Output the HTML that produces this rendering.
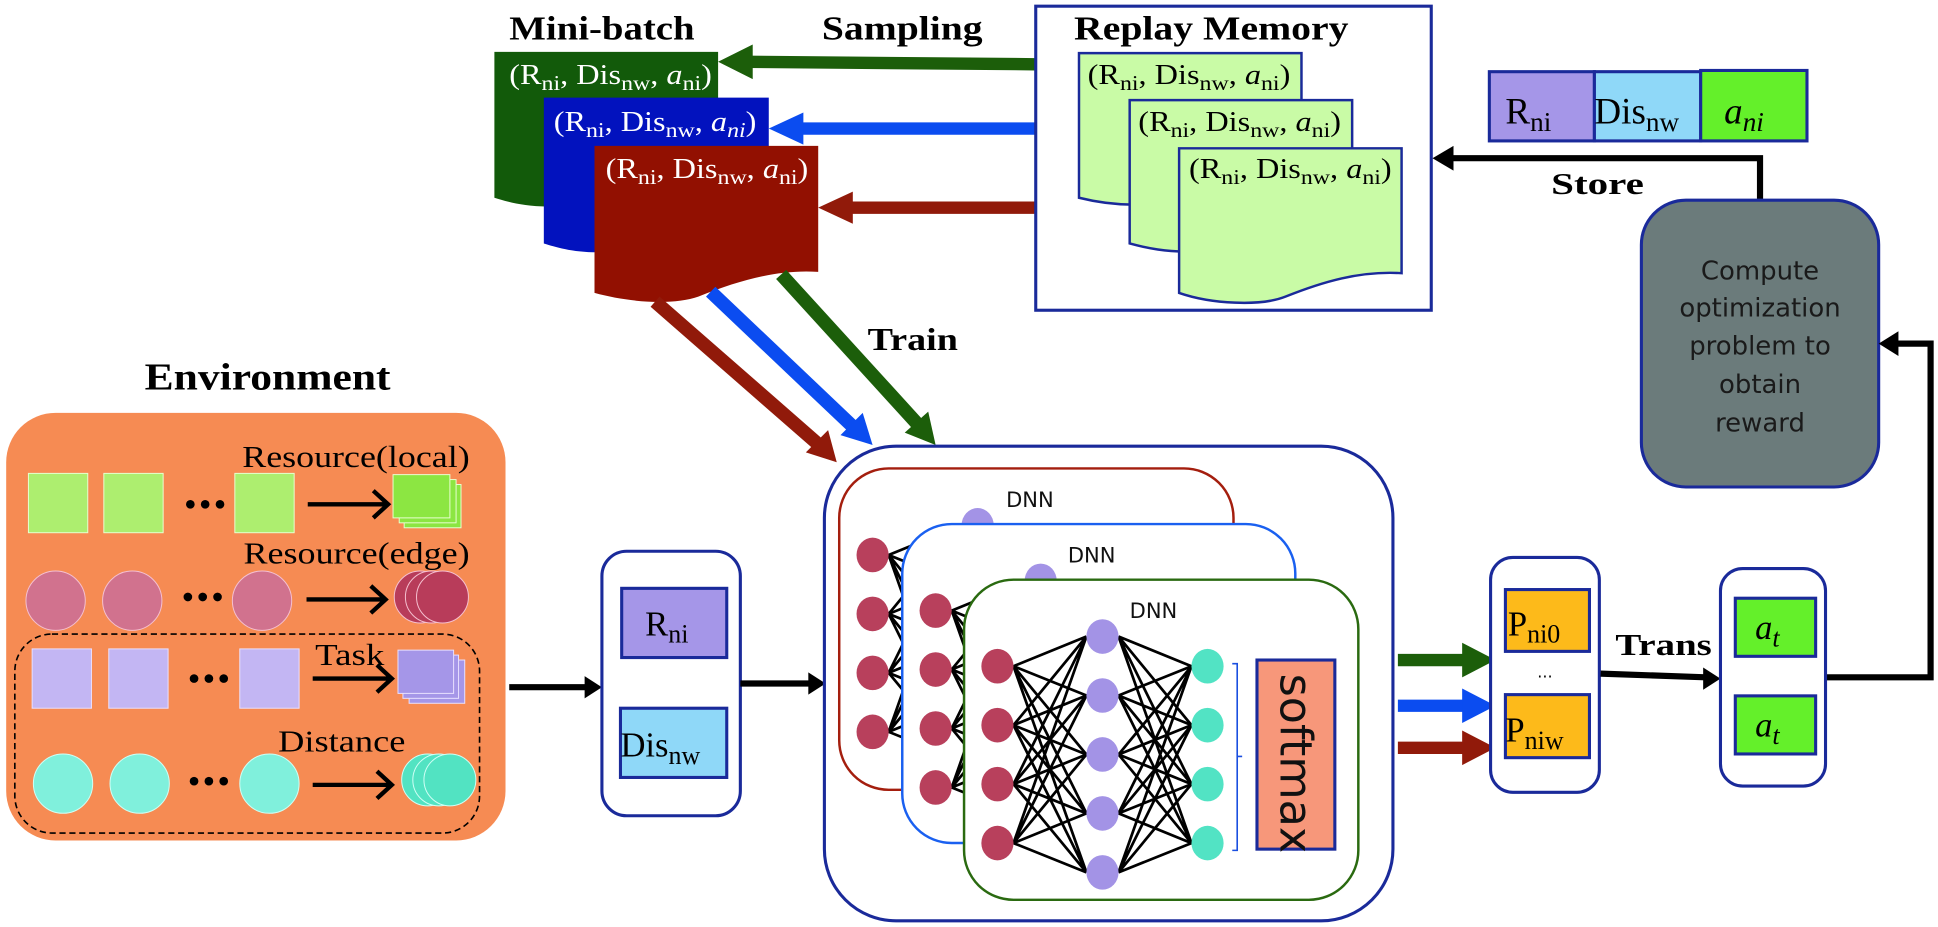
<!DOCTYPE html>
<html><head><meta charset="utf-8"><style>
html,body{margin:0;padding:0;background:#fff;}
svg{display:block;}
.t{font-family:"Liberation Serif",serif;font-weight:bold;fill:#000;}
.s{font-family:"Liberation Serif",serif;}
.sans{font-family:"DejaVu Sans","Liberation Sans",sans-serif;}
</style></head><body>
<svg width="1938" height="927" viewBox="0 0 1568 750" preserveAspectRatio="none" xmlns="http://www.w3.org/2000/svg">
<defs>
<g id="net">
 <g stroke="#000" stroke-width="2.2" fill="none">
  <path d="M40 70L99 46M40 70L99 93.7M40 70L99 141.4M40 70L99 189.1M40 70L99 236.8
  M40 117.7L99 46M40 117.7L99 93.7M40 117.7L99 141.4M40 117.7L99 189.1M40 117.7L99 236.8
  M40 165.4L99 46M40 165.4L99 93.7M40 165.4L99 141.4M40 165.4L99 189.1M40 165.4L99 236.8
  M40 213.1L99 46M40 213.1L99 93.7M40 213.1L99 141.4M40 213.1L99 189.1M40 213.1L99 236.8
  M184 70L125 46M184 70L125 93.7M184 70L125 141.4M184 70L125 189.1M184 70L125 236.8
  M184 117.7L125 46M184 117.7L125 93.7M184 117.7L125 141.4M184 117.7L125 189.1M184 117.7L125 236.8
  M184 165.4L125 46M184 165.4L125 93.7M184 165.4L125 141.4M184 165.4L125 189.1M184 165.4L125 236.8
  M184 213.1L125 46M184 213.1L125 93.7M184 213.1L125 141.4M184 213.1L125 189.1M184 213.1L125 236.8"/>
 </g>
 <g fill="#B8405C">
  <ellipse cx="27" cy="70" rx="13" ry="14"/><ellipse cx="27" cy="117.7" rx="13" ry="14"/><ellipse cx="27" cy="165.4" rx="13" ry="14"/><ellipse cx="27" cy="213.1" rx="13" ry="14"/>
 </g>
 <g fill="#A393E6">
  <ellipse cx="112" cy="46" rx="13" ry="14"/><ellipse cx="112" cy="93.7" rx="13" ry="14"/><ellipse cx="112" cy="141.4" rx="13" ry="14"/><ellipse cx="112" cy="189.1" rx="13" ry="14"/><ellipse cx="112" cy="236.8" rx="13" ry="14"/>
 </g>
 <g fill="#52E3C4">
  <ellipse cx="197" cy="70" rx="13" ry="14"/><ellipse cx="197" cy="117.7" rx="13" ry="14"/><ellipse cx="197" cy="165.4" rx="13" ry="14"/><ellipse cx="197" cy="213.1" rx="13" ry="14"/>
 </g>
 <path d="M217 68H221V219H217M221 143H225" stroke="#1a4fe0" stroke-width="1.3" fill="none"/>
 <rect x="237" y="65" width="63" height="153" fill="#F7977A" stroke="#1a2a9a" stroke-width="2.5"/>
 <text class="sans" transform="translate(256,76) rotate(90)" font-size="36" fill="#111">softmax</text>
</g>
</defs>

<text class="t" x="412" y="32" font-size="27" textLength="150" lengthAdjust="spacingAndGlyphs">Mini-batch</text>
<text class="t" x="665" y="32" font-size="27" textLength="130" lengthAdjust="spacingAndGlyphs">Sampling</text>

<path d="M400 42H581V150C540 146 520 160 450 167C425 168 410 163 400 160Z" fill="#125A0A"/>
<path d="M440 79H622V190C580 186 560 198 490 204C465 205 450 200 440 197Z" fill="#0212BE"/>
<path d="M481 118H662V220C630 218 600 226 565 240C545 247 510 245 481 237Z" fill="#921001"/>
<g class="s" font-size="23" fill="#fff">
<text x="412" y="68" textLength="164" lengthAdjust="spacingAndGlyphs">(R<tspan font-size="17" dy="5">ni</tspan><tspan dy="-5">, Dis</tspan><tspan font-size="17" dy="5">nw</tspan><tspan dy="-5">, </tspan><tspan font-style="italic">a</tspan><tspan font-size="17" dy="5">ni</tspan><tspan dy="-5">)</tspan></text>
<text x="448" y="106" textLength="164" lengthAdjust="spacingAndGlyphs">(R<tspan font-size="17" dy="5">ni</tspan><tspan dy="-5">, Dis</tspan><tspan font-size="17" dy="5">nw</tspan><tspan dy="-5">, </tspan><tspan font-style="italic">a</tspan><tspan font-size="17" dy="5" font-style="italic">ni</tspan><tspan dy="-5">)</tspan></text>
<text x="490" y="144" textLength="164" lengthAdjust="spacingAndGlyphs">(R<tspan font-size="17" dy="5">ni</tspan><tspan dy="-5">, Dis</tspan><tspan font-size="17" dy="5">nw</tspan><tspan dy="-5">, </tspan><tspan font-style="italic">a</tspan><tspan font-size="17" dy="5">ni</tspan><tspan dy="-5">)</tspan></text>
</g>

<path d="M838 52L605 50" stroke="#1C5E0A" stroke-width="10"/>
<path d="M581 50L609 36V64Z" fill="#1C5E0A"/>
<path d="M838 104H645" stroke="#0B4CF0" stroke-width="10"/>
<path d="M622 104L650 91V117Z" fill="#0B4CF0"/>
<path d="M838 168H685" stroke="#911A0A" stroke-width="10"/>
<path d="M662 168L690 155V181Z" fill="#911A0A"/>

<rect x="838" y="5" width="320" height="246" fill="#fff" stroke="#1a2a9a" stroke-width="2.5"/>
<text class="t" x="869" y="32" font-size="27" textLength="222" lengthAdjust="spacingAndGlyphs">Replay Memory</text>
<path d="M873 43H1053V150C1010 148 990 160 930 165C905 167 885 163 873 160Z" fill="#C9FBA6" stroke="#1a2a9a" stroke-width="2"/>
<path d="M914 81H1094V190C1050 188 1030 198 970 203C945 205 925 200 914 197Z" fill="#C9FBA6" stroke="#1a2a9a" stroke-width="2"/>
<path d="M954 120H1134V221C1100 219 1070 228 1040 240C1020 248 980 246 954 237Z" fill="#C9FBA6" stroke="#1a2a9a" stroke-width="2"/>
<g class="s" font-size="23" fill="#000">
<text x="880" y="68" textLength="164" lengthAdjust="spacingAndGlyphs">(R<tspan font-size="17" dy="5">ni</tspan><tspan dy="-5">, Dis</tspan><tspan font-size="17" dy="5">nw</tspan><tspan dy="-5">, </tspan><tspan font-style="italic">a</tspan><tspan font-size="17" dy="5">ni</tspan><tspan dy="-5">)</tspan></text>
<text x="921" y="106" textLength="164" lengthAdjust="spacingAndGlyphs">(R<tspan font-size="17" dy="5">ni</tspan><tspan dy="-5">, Dis</tspan><tspan font-size="17" dy="5">nw</tspan><tspan dy="-5">, </tspan><tspan font-style="italic">a</tspan><tspan font-size="17" dy="5">ni</tspan><tspan dy="-5">)</tspan></text>
<text x="962" y="144" textLength="164" lengthAdjust="spacingAndGlyphs">(R<tspan font-size="17" dy="5">ni</tspan><tspan dy="-5">, Dis</tspan><tspan font-size="17" dy="5">nw</tspan><tspan dy="-5">, </tspan><tspan font-style="italic">a</tspan><tspan font-size="17" dy="5">ni</tspan><tspan dy="-5">)</tspan></text>
</g>

<rect x="1205" y="58" width="85" height="56" fill="#A596E8" stroke="#1a2a9a" stroke-width="2.5"/>
<rect x="1290" y="58" width="86" height="56" fill="#8FD8F8" stroke="#1a2a9a" stroke-width="2.5"/>
<rect x="1376" y="57" width="86" height="57" fill="#64F02A" stroke="#1a2a9a" stroke-width="2.5"/>
<g class="s" fill="#000">
<text x="1218" y="100" font-size="30">R<tspan font-size="22" dy="6">ni</tspan></text>
<text x="1290" y="100" font-size="30">Dis<tspan font-size="22" dy="6">nw</tspan></text>
<text x="1395" y="100" font-size="30" font-style="italic">a<tspan font-size="22" dy="6">ni</tspan></text>
</g>

<path d="M1424 163V128H1172" stroke="#000" stroke-width="5" fill="none"/>
<path d="M1159 128L1176 118V138Z" fill="#000"/>
<text class="t" x="1255" y="157" font-size="25" textLength="75" lengthAdjust="spacingAndGlyphs">Store</text>

<rect x="1328" y="162" width="192" height="232" rx="36" fill="#6B7B7B" stroke="#1a2a9a" stroke-width="2.5"/>
<g class="sans" font-size="21" fill="#1a1a1a" text-anchor="middle">
<text x="1424" y="226">Compute</text>
<text x="1424" y="256">optimization</text>
<text x="1424" y="287">problem to</text>
<text x="1424" y="318">obtain</text>
<text x="1424" y="349">reward</text>
</g>
<path d="M1477 548H1562V278H1532" stroke="#000" stroke-width="5" fill="none"/>
<path d="M1520 278L1536 268V288Z" fill="#000"/>

<path d="M530 244L665 362" stroke="#911A0A" stroke-width="11"/>
<path d="M677 374L652 366L670 348Z" fill="#911A0A"/>
<path d="M575 236L693 348" stroke="#0B4CF0" stroke-width="11"/>
<path d="M706 360L680 352L698 334Z" fill="#0B4CF0"/>
<path d="M632 222L745 346" stroke="#1C5E0A" stroke-width="11"/>
<path d="M757 360L732 350L751 333Z" fill="#1C5E0A"/>
<text class="t" x="702" y="283" font-size="26" textLength="73" lengthAdjust="spacingAndGlyphs">Train</text>

<text class="t" x="117" y="315" font-size="31" textLength="199" lengthAdjust="spacingAndGlyphs">Environment</text>
<rect x="5" y="334" width="404" height="346" rx="40" fill="#F68B53"/>
<rect x="12" y="513" width="376" height="161" rx="30" fill="none" stroke="#000" stroke-width="1.3" stroke-dasharray="5,3"/>
<g class="s" font-size="25" fill="#000">
<text x="196" y="378" textLength="184" lengthAdjust="spacingAndGlyphs">Resource(local)</text>
<text x="197" y="456" textLength="183" lengthAdjust="spacingAndGlyphs">Resource(edge)</text>
<text x="255" y="538" textLength="56" lengthAdjust="spacingAndGlyphs">Task</text>
<text x="225" y="608" textLength="103" lengthAdjust="spacingAndGlyphs">Distance</text>
</g>
<g stroke="#e8ffd0" stroke-width="0.8">
<rect x="23" y="383" width="48" height="48" fill="#ADEE6F"/><rect x="84" y="383" width="48" height="48" fill="#ADEE6F"/><rect x="190" y="383" width="48" height="48" fill="#ADEE6F"/>
<rect x="327" y="392" width="46" height="35" fill="#8CE642"/><rect x="323" y="388" width="46" height="35" fill="#8CE642"/><rect x="318" y="384" width="46" height="35" fill="#8CE642"/>
</g>
<g stroke="#f5c0d0" stroke-width="0.8" fill="#D1728E">
<circle cx="45" cy="486" r="24"/><circle cx="107" cy="486" r="24"/><circle cx="212" cy="486" r="24"/>
</g>
<g stroke="#f5c0d0" stroke-width="0.8" fill="#B83C5A">
<circle cx="340" cy="483" r="21"/><circle cx="349" cy="483" r="21"/><circle cx="358" cy="483" r="21"/>
</g>
<g stroke="#e8e0ff" stroke-width="0.8">
<rect x="26" y="525" width="48" height="48" fill="#C3B6F3"/><rect x="88" y="525" width="48" height="48" fill="#C3B6F3"/><rect x="194" y="525" width="48" height="48" fill="#C3B6F3"/>
<rect x="331" y="534" width="45" height="35" fill="#A596E8"/><rect x="326" y="530" width="45" height="35" fill="#A596E8"/><rect x="322" y="526" width="45" height="35" fill="#A596E8"/>
</g>
<g stroke="#d0fff5" stroke-width="0.8" fill="#80F0DC">
<circle cx="51" cy="634" r="24"/><circle cx="113" cy="634" r="24"/><circle cx="218" cy="634" r="24"/>
</g>
<g stroke="#d0fff5" stroke-width="0.8" fill="#52E3C2">
<circle cx="346" cy="631" r="21"/><circle cx="355" cy="631" r="21"/><circle cx="364" cy="631" r="21"/>
</g>
<g fill="#000">
<circle cx="154" cy="408" r="3.5"/><circle cx="166" cy="408" r="3.5"/><circle cx="178" cy="408" r="3.5"/>
<circle cx="152" cy="483" r="3.5"/><circle cx="164" cy="483" r="3.5"/><circle cx="176" cy="483" r="3.5"/>
<circle cx="157" cy="549" r="3.5"/><circle cx="169" cy="549" r="3.5"/><circle cx="181" cy="549" r="3.5"/>
<circle cx="157" cy="632" r="3.5"/><circle cx="169" cy="632" r="3.5"/><circle cx="181" cy="632" r="3.5"/>
</g>
<g stroke="#000" stroke-width="3.5" fill="none">
<path d="M249 408H313M302 397L314 408L302 419"/>
<path d="M248 485H311M300 474L312 485L300 496"/>
<path d="M253 549H316M305 538L317 549L305 560"/>
<path d="M253 635H316M305 624L317 635L305 646"/>
</g>

<path d="M412 556H476" stroke="#000" stroke-width="5"/>
<path d="M487 556L473 547V565Z" fill="#000"/>
<rect x="487" y="446" width="112" height="214" rx="20" fill="#fff" stroke="#1a2a9a" stroke-width="2.5"/>
<rect x="503" y="476" width="85" height="56" fill="#A596E8" stroke="#1a2a9a" stroke-width="2.5"/>
<rect x="502" y="573" width="86" height="56" fill="#8FD8F8" stroke="#1a2a9a" stroke-width="2.5"/>
<text class="s" x="522" y="514" font-size="28">R<tspan font-size="21" dy="6">ni</tspan></text>
<text class="s" x="502" y="612" font-size="28">Dis<tspan font-size="21" dy="6">nw</tspan></text>
<path d="M599 553H657" stroke="#000" stroke-width="5"/>
<path d="M668 553L654 544V562Z" fill="#000"/>

<rect x="667" y="361" width="460" height="384" rx="58" fill="#fff" stroke="#1a2a9a" stroke-width="2.5"/>
<rect x="679" y="379" width="319" height="260" rx="40" fill="#fff" stroke="#A41E0E" stroke-width="2"/>
<use href="#net" transform="translate(679,379)"/>
<text class="sans" x="814" y="410" font-size="17" fill="#111">DNN</text>
<rect x="730" y="424" width="318" height="258" rx="40" fill="#fff" stroke="#1a60f0" stroke-width="2"/>
<use href="#net" transform="translate(730,424)"/>
<text class="sans" x="864" y="455" font-size="17" fill="#111">DNN</text>
<rect x="780" y="469" width="319" height="259" rx="40" fill="#fff" stroke="#2a6a10" stroke-width="2"/>
<use href="#net" transform="translate(780,469)"/>
<text class="sans" x="914" y="500" font-size="17" fill="#111">DNN</text>

<path d="M1131 534H1185" stroke="#1C5E0A" stroke-width="10"/>
<path d="M1210 534L1183 520V548Z" fill="#1C5E0A"/>
<path d="M1131 571H1185" stroke="#0B4CF0" stroke-width="10"/>
<path d="M1210 571L1183 557V585Z" fill="#0B4CF0"/>
<path d="M1131 605H1185" stroke="#911A0A" stroke-width="10"/>
<path d="M1210 605L1183 591V619Z" fill="#911A0A"/>

<rect x="1206" y="451" width="88" height="190" rx="18" fill="#fff" stroke="#1a2a9a" stroke-width="2.5"/>
<rect x="1218" y="477" width="68" height="50" fill="#FDBA1A" stroke="#1a2a9a" stroke-width="2.5"/>
<rect x="1218" y="562" width="68" height="51" fill="#FDBA1A" stroke="#1a2a9a" stroke-width="2.5"/>
<text class="s" x="1220" y="514" font-size="28">P<tspan font-size="21" dy="6">ni0</tspan></text>
<text class="s" x="1218" y="600" font-size="28">P<tspan font-size="21" dy="6">niw</tspan></text>
<text class="sans" x="1250" y="548" font-size="13" text-anchor="middle">...</text>

<path d="M1295 545L1380 548" stroke="#000" stroke-width="5"/>
<path d="M1392 549L1378 540V558Z" fill="#000"/>
<text class="t" x="1307" y="530" font-size="25" textLength="78" lengthAdjust="spacingAndGlyphs">Trans</text>
<rect x="1392" y="460" width="85" height="176" rx="18" fill="#fff" stroke="#1a2a9a" stroke-width="2.5"/>
<rect x="1404" y="484" width="65" height="47" fill="#64F02A" stroke="#1a2a9a" stroke-width="2.5"/>
<rect x="1404" y="563" width="65" height="47" fill="#64F02A" stroke="#1a2a9a" stroke-width="2.5"/>
<text class="s" x="1420" y="517" font-size="28" font-style="italic">a<tspan font-size="21" dy="6">t</tspan></text>
<text class="s" x="1420" y="596" font-size="28" font-style="italic">a<tspan font-size="21" dy="6">t</tspan></text>
</svg>
</body></html>
